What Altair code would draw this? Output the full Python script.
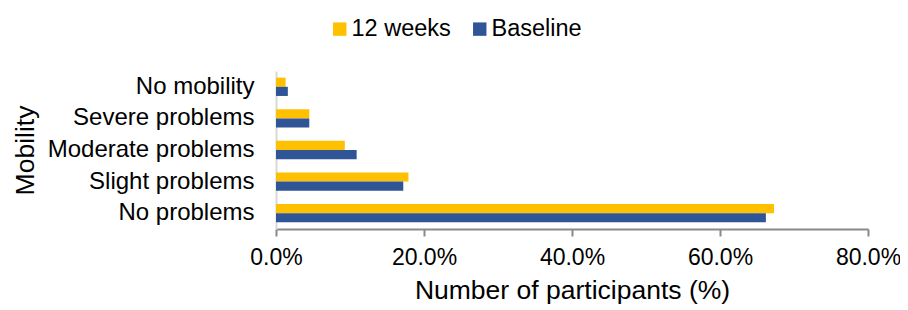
import altair as alt
import pandas as pd

categories = ["No mobility", "Severe problems", "Moderate problems", "Slight problems", "No problems"]
series = ["12 weeks", "Baseline"]
weeks12 = [1.3, 4.5, 9.3, 17.9, 67.3]
baseline = [1.6, 4.5, 10.9, 17.2, 66.2]
x_ticks = [0, 20, 40, 60, 80]
colors = ["#FFC000", "#2F5597"]

rows = []
for c, a, b in zip(categories, weeks12, baseline):
    rows.append({"Mobility": c, "Series": series[0], "Value": a})
    rows.append({"Mobility": c, "Series": series[1], "Value": b})
df = pd.DataFrame(rows)

FONT = "Liberation Sans"

chart = alt.Chart(df).mark_bar().encode(
    y=alt.Y("Mobility:N", sort=categories,
            scale=alt.Scale(paddingInner=0.42, paddingOuter=0.21),
            axis=alt.Axis(title="Mobility", ticks=False, labelPadding=22, labelLimit=400,
                          labelFontSize=24, labelColor="#000000", labelFont=FONT,
                          titleFontSize=26.5, titleFont=FONT, titleFontWeight="normal",
                          titleColor="#000000", titleX=-251, titleY=79,
                          titleBaseline="middle", titleAngle=270,
                          domainColor="#D9D9D9", domainWidth=2, grid=False)),
    yOffset=alt.YOffset("Series:N", sort=series, scale=alt.Scale(paddingInner=0, paddingOuter=0)),
    x=alt.X("Value:Q", scale=alt.Scale(domain=[0, 80], nice=False),
            axis=alt.Axis(values=x_ticks, title="Number of participants (%)",
                          labelExpr="format(datum.value, '.1f') + '%'",
                          labelFontSize=23, labelColor="#000000", labelFont=FONT,
                          titleFontSize=26.5, titleFont=FONT, titleFontWeight="normal",
                          titleColor="#000000", titlePadding=8,
                          domainColor="#898989", domainWidth=2, tickColor="#898989",
                          tickWidth=2, tickSize=7, labelPadding=10, grid=False,
                          labelFlush=False)),
    color=alt.Color("Series:N", sort=series,
                    scale=alt.Scale(domain=series, range=colors),
                    legend=alt.Legend(title=None, orient="none", direction="horizontal",
                                      legendX=52, legendY=-54, symbolType="square",
                                      symbolSize=180, symbolStrokeWidth=0,
                                      labelFontSize=23.5, labelFont=FONT, labelColor="#000000",
                                      labelOffset=0, columnPadding=17, padding=0)),
).properties(
    width=592, height=158,
    padding={"left": 268, "top": 63, "right": 32, "bottom": 79},
    autosize=alt.AutoSizeParams(type="none"),
).configure_view(stroke=None)

chart.save("out.html", embed_options={"renderer": "svg", "actions": False})
